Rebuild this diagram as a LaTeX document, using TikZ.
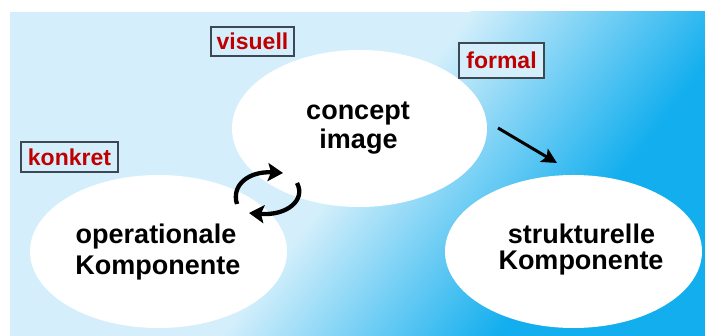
\documentclass[tikz,border=0pt]{standalone}
\usepackage{fontspec}
\setmainfont{Liberation Sans}
\usetikzlibrary{arrows.meta, shapes.geometric}

\definecolor{bglight}{RGB}{212,239,251}
\definecolor{bgdark}{RGB}{18,174,238}
\definecolor{tagred}{RGB}{192,0,0}
\definecolor{tagframe}{RGB}{60,72,82}

\begin{document}
\begin{tikzpicture}[x=1pt, y=-1pt,
  blob/.style={ellipse, fill=white, draw=none, inner sep=0pt},
  term/.style={anchor=base, inner sep=0pt, text=black,
    font=\fontsize{27}{30}\selectfont\bfseries},
  tag/.style={draw=tagframe, line width=1.2pt, fill=bglight, inner sep=0pt,
    text=tagred, font=\fontsize{23}{26}\selectfont\bfseries},
  cycle arrow/.style={line width=4.3pt,
    -{Stealth[length=15pt, width=18pt, inset=3pt]}},
  flow arrow/.style={line width=3pt,
    -{Stealth[length=15pt, width=15pt, inset=3pt]}}
]
\useasboundingbox (0,0) rectangle (705,336);
\fill[white] (0,0) rectangle (705,336);

% background panel: light blue turning into a saturated blue towards the lower right
\begin{scope}
  \clip (10,12) rectangle (705,336);
  \fill[bglight] (10,12) rectangle (705,336);
  \begin{scope}[transform canvas={shift={(432,241)}, rotate=-37.7}]
    \shade[left color=bglight, right color=bgdark] (-110,-700) rectangle (110,700);
    \fill[bgdark] (109.5,-700) rectangle (800,700);
  \end{scope}
\end{scope}

% the three components
\node[blob, minimum width=255pt, minimum height=157pt] (ci) at (359.5,128.5) {};
\node[blob, minimum width=257pt, minimum height=153pt] (op) at (158.5,251.5) {};
\node[blob, minimum width=257pt, minimum height=153pt] (st) at (573.5,251.5) {};

\node[term] (ci1) at (358,119.3) {concept};
\node[term] (ci2) at (358.5,148.3) {image};
\node[term] (op1) at (156,243.3) {operationale};
\node[term] (op2) at (157.8,275) {Komponente};
\node[term] (st1) at (581.5,243.3) {strukturelle};
\node[term] (st2) at (581,270) {Komponente};

% aspect labels
\node[tag, minimum width=83pt, minimum height=29pt] (visuell) at (252.5,41.5) {visuell};
\node[tag, minimum width=85pt, minimum height=35pt] (formal) at (501.5,60.5) {formal};
\node[tag, minimum width=97pt, minimum height=30pt] (konkret) at (69.5,157) {konkret};

% interplay between concept image and operational component
\coordinate (cyA) at (237,204);
\coordinate (cyB) at (283,173);
\coordinate (cyC) at (297,183);
\coordinate (cyD) at (249,213);
\draw[cycle arrow] (cyA) .. controls (231,185) and (249,171) .. (cyB);
\draw[cycle arrow] (cyC) .. controls (306,200) and (287,216) .. (cyD);

% transition towards the structural component
\coordinate (fa) at (498,128);
\coordinate (fb) at (557,163);
\draw[flow arrow] (fa) -- (fb);
\end{tikzpicture}
\end{document}
